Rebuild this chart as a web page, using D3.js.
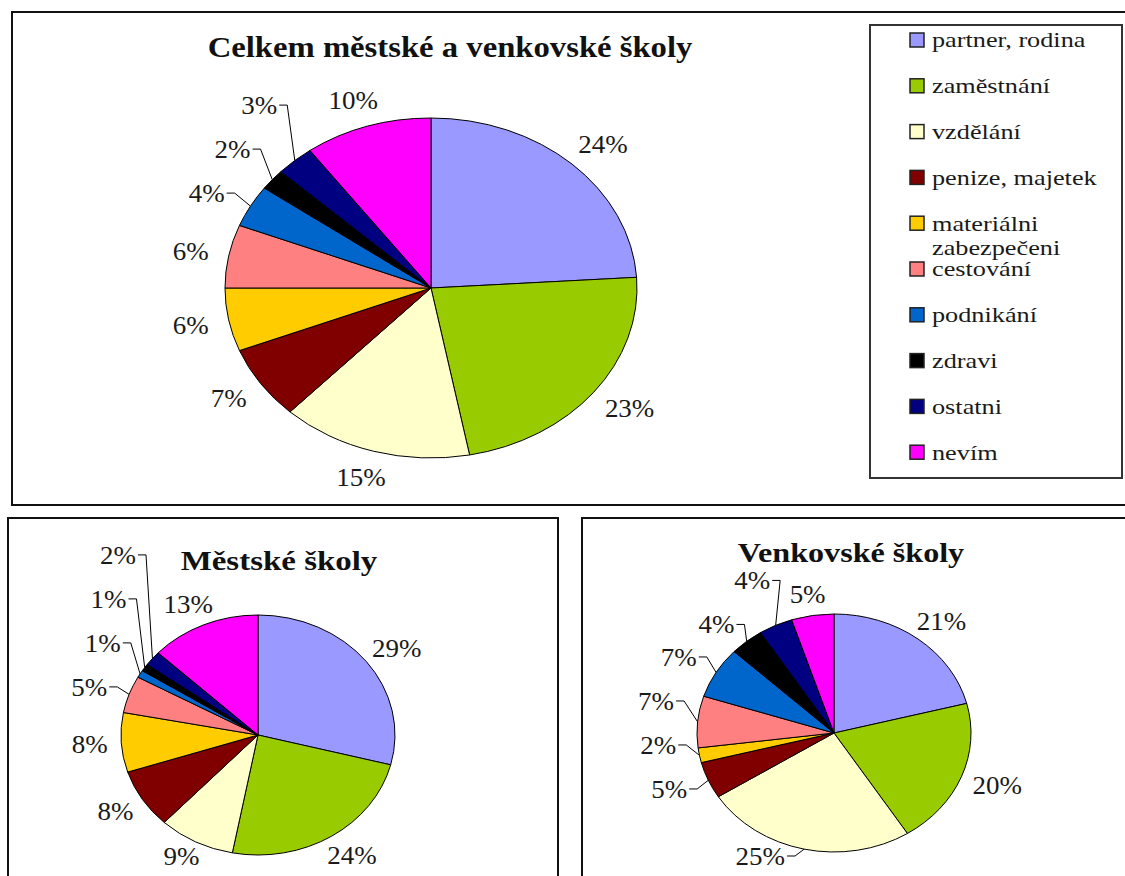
<!DOCTYPE html>
<html>
<head>
<meta charset="utf-8">
<script src="https://cdn.jsdelivr.net/npm/d3@7/dist/d3.min.js"></script>
<style>
  body { margin: 0; background: #fff; }
  svg { display: block; }
  text { font-family: "Liberation Serif", "Times New Roman", serif; }
</style>
</head>
<body>
<div id="chart"></div>
<script>
// data
const categories = ["partner, rodina", "zaměstnání", "vzdělání", "penize, majetek",
  "materiálni zabezpečeni", "cestování", "podnikání", "zdravi", "ostatni", "nevím"];
const colors = ["#9999FF", "#99CC00", "#FFFFCC", "#800000", "#FFCC00",
  "#FF8080", "#0066CC", "#000000", "#000080", "#FF00FF"];
const totalValues = [24, 23, 15, 7, 6, 6, 4, 2, 3, 10];
const urbanValues = [29, 24, 9, 8, 8, 5, 1, 1, 2, 13];
const ruralValues = [21, 20, 25, 5, 2, 7, 7, 4, 4, 5];
const titles = ["Celkem městské a venkovské školy", "Městské školy", "Venkovské školy"];

const W = 1125, H = 876;

// layout of the three panels (positions only)
const charts = [
  {title: titles[0], values: totalValues, cx: 431, cy: 288, rx: 206, ry: 170,
   tx: 450, ty: 57, tsize: 30, tscale: 1.09, bottom: 505},
  {title: titles[1], values: urbanValues, cx: 258, cy: 735, rx: 137, ry: 120,
   tx: 279, ty: 570, tsize: 27, tscale: 1.22, bottom: H},
  {title: titles[2], values: ruralValues, cx: 834, cy: 733, rx: 137, ry: 119,
   tx: 851, ty: 562, tsize: 27, tscale: 1.19, bottom: H}
];

const frames = [
  {x: 12, y: 12, w: 1140, h: 493},
  {x: 8, y: 518, w: 550, h: 400},
  {x: 582, y: 518, w: 560, h: 400}
];

const svg = d3.select("#chart").append("svg")
    .attr("width", W)
    .attr("height", H);

svg.append("rect").attr("width", W).attr("height", H).attr("fill", "#fff");

svg.selectAll(".frame")
    .data(frames)
  .enter().append("rect")
    .attr("class", "frame")
    .attr("x", d => d.x)
    .attr("y", d => d.y)
    .attr("width", d => d.w)
    .attr("height", d => d.h)
    .attr("fill", "none")
    .attr("stroke", "#111")
    .attr("stroke-width", 2);

const R = 100; // base radius, ellipse made by scaling
const pie = d3.pie().sort(null).value(d => d);
const arc = d3.arc().innerRadius(0).outerRadius(R);

const labelSize = 25, labelScale = 1.08, labelH = 20, gap = 44;

charts.forEach(c => {
  const g = svg.append("g");

  g.append("text")
      .attr("transform", `translate(${c.tx},${c.ty}) scale(${c.tscale},1)`)
      .attr("text-anchor", "middle")
      .attr("font-size", c.tsize)
      .attr("font-weight", "bold")
      .attr("fill", "#111")
      .text(c.title);

  const arcs = pie(c.values);
  const onEllipse = (a, k) => [c.cx + k * c.rx * Math.sin(a), c.cy - k * c.ry * Math.cos(a)];

  g.append("g")
      .attr("transform", `translate(${c.cx},${c.cy}) scale(${c.rx / R},${c.ry / R})`)
    .selectAll("path")
      .data(arcs)
    .enter().append("path")
      .attr("d", arc)
      .attr("fill", (d, i) => colors[i])
      .attr("stroke", "#000")
      .attr("stroke-width", 1)
      .attr("vector-effect", "non-scaling-stroke");

  // labels: natural spot just outside the rim
  const labels = arcs.map((a, i) => {
    const mid = (a.startAngle + a.endAngle) / 2;
    const s = Math.sin(mid), co = Math.cos(mid);
    const t = g.append("text")
        .attr("text-anchor", "middle")
        .attr("dy", "0.35em")
        .attr("font-size", labelSize)
        .attr("fill", "#1a1a1a")
        .text(a.value + "%");
    const w = t.node().getComputedTextLength() * labelScale;
    const p = onEllipse(mid, 1.1);
    const x0 = p[0] + s * w / 2, y0 = p[1] - co * labelH / 2;
    return {t, mid, s, w, x: x0, y: y0, x0, y0, crowded: false};
  });

  const overlapX = (a, b) => Math.abs(a.x - b.x) < (a.w + b.w) / 2;

  // left side: push upward, right side: push downward
  const left = labels.filter(l => l.s < 0).sort((a, b) => a.mid - b.mid);
  const right = labels.filter(l => l.s >= 0).sort((a, b) => a.mid - b.mid);
  [[left, -1], [right, 1]].forEach(([list, dir]) => {
    list.forEach((l, i) => {
      for (let it = 0; it < 5; it++) {
        let moved = false;
        list.slice(0, i).forEach(p => {
          if (overlapX(l, p) && Math.abs(l.y - p.y) < gap) {
            l.y = p.y + dir * gap;
            l.crowded = p.crowded = true;
            moved = true;
          }
        });
        if (!moved) break;
      }
    });
  });

  labels.forEach(l => {
    if (l.crowded) l.x += (l.s < 0 ? -10 : 10);
    // keep inside the panel, then off the pie
    const maxY = c.bottom - labelH / 2 - 10;
    if (l.y > maxY) l.y = maxY;
    const yy = l.y > c.cy ? l.y - labelH / 2 : l.y + labelH / 2;
    const q = (yy - c.cy) / c.ry;
    const hw = c.rx * Math.sqrt(Math.max(0, 1 - q * q));
    if (hw > 0 && l.x + l.w / 2 > c.cx - hw - 4 && l.x - l.w / 2 < c.cx + hw + 4) {
      l.x = l.s < 0 ? c.cx - hw - 6 - l.w / 2 : c.cx + hw + 6 + l.w / 2;
    }
    l.t.attr("transform", `translate(${l.x},${l.y}) scale(${labelScale},1)`);

    if (l.crowded || Math.hypot(l.x - l.x0, l.y - l.y0) > 8) {
      const side = l.s < 0 ? 1 : -1;
      const ex = l.x + side * (l.w / 2 + 2);
      const tip = onEllipse(l.mid, 1.0);
      g.append("polyline")
          .attr("points", [[ex, l.y], [ex + side * 8, l.y], tip].map(p => p.join(",")).join(" "))
          .attr("fill", "none")
          .attr("stroke", "#000")
          .attr("stroke-width", 1);
    }
  });
});

// legend
const legend = svg.append("g");
legend.append("rect")
    .attr("x", 870).attr("y", 25)
    .attr("width", 252).attr("height", 453)
    .attr("fill", "#fff")
    .attr("stroke", "#333")
    .attr("stroke-width", 2);

const legendScale = 1.25, legendMax = 184;
const item = legend.selectAll(".item")
    .data(categories)
  .enter().append("g")
    .attr("class", "item")
    .attr("transform", (d, i) => `translate(910,${40 + i * 45.8})`);

item.append("rect")
    .attr("x", 0).attr("y", -7)
    .attr("width", 14).attr("height", 14)
    .attr("fill", (d, i) => colors[i])
    .attr("stroke", "#222")
    .attr("stroke-width", 1.5);

item.each(function (d) {
  const words = d.split(" ");
  const lines = [];
  let line = "";
  const probe = d3.select(this).append("text").attr("font-size", 21);
  words.forEach(wd => {
    const test = line ? line + " " + wd : wd;
    probe.text(test);
    if (line && probe.node().getComputedTextLength() * legendScale > legendMax) {
      lines.push(line);
      line = wd;
    } else line = test;
  });
  lines.push(line);
  probe.remove();
  lines.forEach((ln, j) => {
    d3.select(this).append("text")
        .attr("transform", `translate(22,${j * 24}) scale(${legendScale},1)`)
        .attr("dy", "0.35em")
        .attr("font-size", 21)
        .attr("fill", "#1a1a1a")
        .text(ln);
  });
});
</script>
</body>
</html>
